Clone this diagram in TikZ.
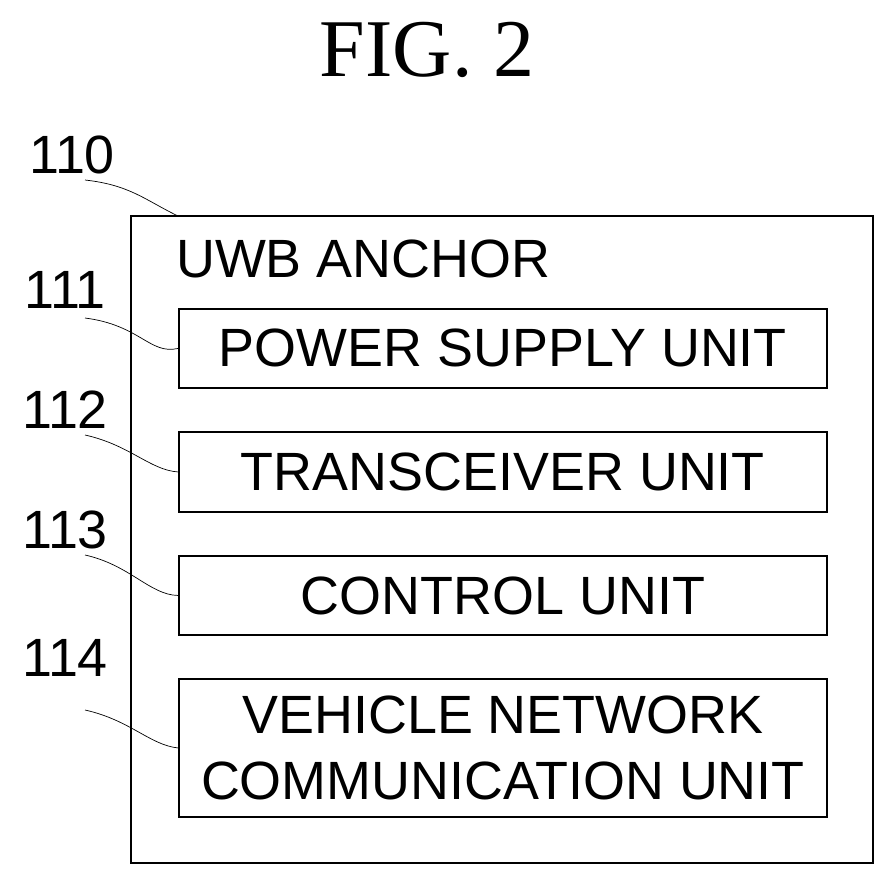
\documentclass[tikz,border=0pt]{standalone}
\usepackage{fontspec}
\setmainfont{Liberation Sans}
\newfontfamily\titlefont{Liberation Serif}
\usetikzlibrary{positioning}
\tikzset{unit/.style={draw, line width=1.6pt, minimum width=648*0.03cm, anchor=north west, inner sep=0pt, align=center, font=\fontsize{46}{57}\selectfont}}
\tikzset{ref/.style={font=\fontsize{46}{50}\selectfont}}
\tikzset{leader/.style={line width=0.6pt}}
\begin{document}
\begin{tikzpicture}[x=0.03cm, y=-0.03cm]
    \useasboundingbox (0,0) rectangle (896,888);
    \node (fig) at (427,50) {\titlefont\fontsize{70}{74}\selectfont FIG. 2};

    \draw[line width=1.6pt] (131,216) rectangle (873,863);
    \coordinate (anchorcorner) at (178,216);
    \node[anchor=base west, font=\fontsize{46}{50}\selectfont] (title) at (172,277) {UWB ANCHOR};

    \node(u1)[unit, minimum height=79*0.03cm] at (178,308) {POWER SUPPLY UNIT};
    \node(u2)[unit, minimum height=80*0.03cm] at (178,431) {TRANSCEIVER UNIT};
    \node(u3)[unit, minimum height=79*0.03cm] at (178,555) {CONTROL UNIT};
    \node(u4)[unit, minimum height=138*0.03cm] at (178,678) {VEHICLE NETWORK\\COMMUNICATION UNIT};

    \node(r0)[ref] at (72,155) {110};
    \node(r1)[ref] at (65,290) {111};
    \node(r2)[ref] at (65,410) {112};
    \node(r3)[ref] at (65,530) {113};
    \node(r4)[ref] at (65,658) {114};

    \draw[leader] (85,180) .. controls (130,185) and (145,200) .. (anchorcorner);
    \draw[leader] (85,318) .. controls (140,325) and (150,355) .. (u1.west);
    \draw[leader] (85,435) .. controls (130,445) and (150,470) .. (u2.west);
    \draw[leader] (85,555) .. controls (130,565) and (150,595) .. (u3.west);
    \draw[leader] (85,710) .. controls (130,720) and (150,745) .. (u4.west);
\end{tikzpicture}
\end{document}
